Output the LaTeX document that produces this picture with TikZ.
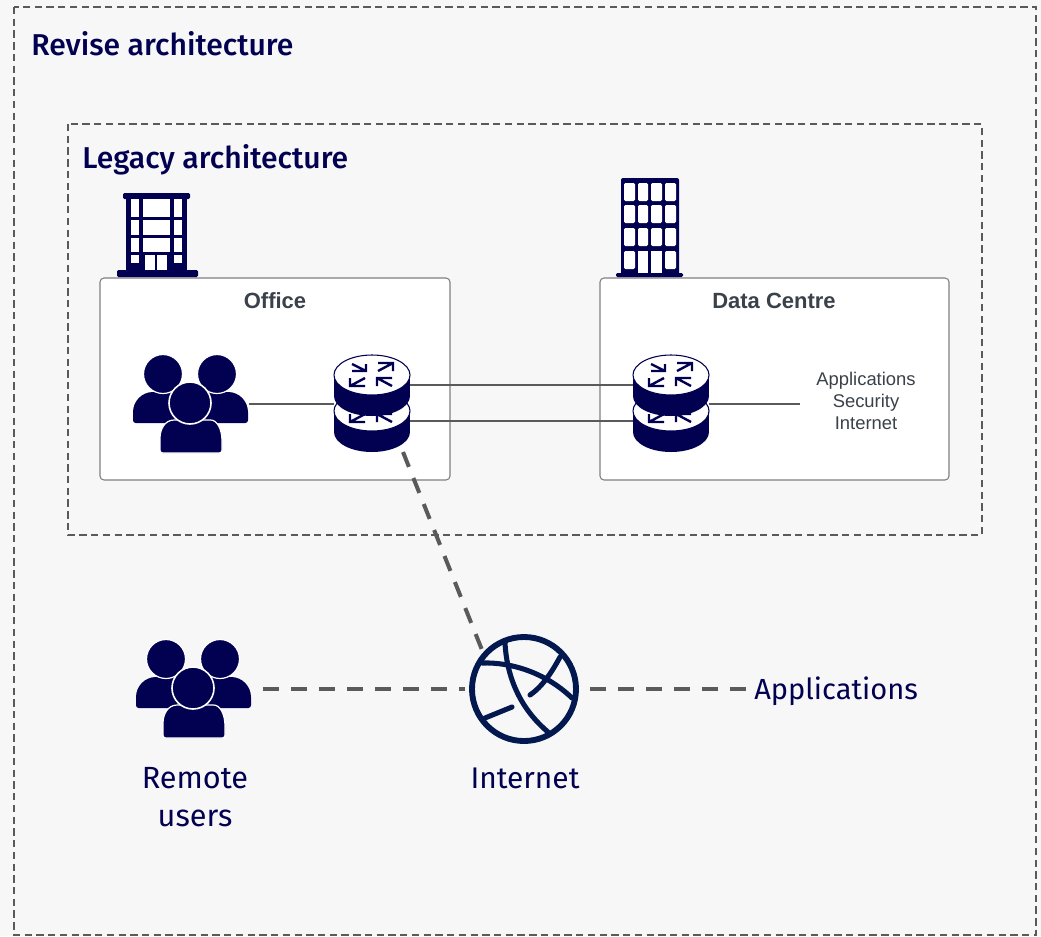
\documentclass[tikz,border=0pt]{standalone}
\usepackage{fontspec}
\setmainfont{Fira Sans}
\newfontfamily\titlefont{Fira Sans Medium}
\newfontfamily\boxfont{Liberation Sans}
\usetikzlibrary{calc,positioning}
\definecolor{navy}{HTML}{020050}
\definecolor{globeblue}{HTML}{03184F}
\definecolor{pagegrey}{HTML}{F7F7F7}
\definecolor{framegrey}{HTML}{5A5A5A}
\definecolor{boxtext}{HTML}{3A414A}

\tikzset{
  usergroup/.pic={
    \fill[navy,rounded corners=2pt] (-57,20) -- (-57,12) {[sharp corners] .. controls (-57,-2) and (-48,-11) .. (-37,-11)} -- (-5,-11) -- (-5,20) -- cycle;
    \fill[navy,rounded corners=2pt] (58,20) -- (58,12) {[sharp corners] .. controls (58,-2) and (49,-11) .. (38,-11)} -- (5,-11) -- (5,20) -- cycle;
    \draw[fill=navy,draw=white,line width=0.9pt] (-27,-29) circle (19.5);
    \draw[fill=navy,draw=white,line width=0.9pt] (27,-29) circle (19.5);
    \draw[fill=navy,draw=white,line width=0.9pt,rounded corners=2pt] (-30,50) -- (-30,38) {[sharp corners] .. controls (-30,26) and (-25,17) .. (-16,17)} -- (18,17) {[sharp corners] .. controls (27,17) and (32,26) .. (32,38)} -- (32,50) -- cycle;
    \draw[fill=navy,draw=white,line width=1.2pt] (0,0) circle (21);
  },
  routerdisc/.pic={
    \fill[navy] (0,21) ellipse [x radius=38,y radius=20];
    \fill[navy] (-38,0) rectangle (38,21);
    \draw[navy,fill=white,line width=0.8pt] (0,0) ellipse [x radius=38,y radius=20];
    \foreach \tx/\ty/\hx/\hy in {-20/-11/-6/-4,6/-4/21/-12,-7/3/-22/11,20/11/5/3} {
      \draw[navy,line width=1.8pt] (\tx,\ty) -- (\hx,\hy) (\hx,\ty) -- (\hx,\hy) -- (\tx,\hy);
    }
  },
  router/.pic={
    \pic at (0,36) {routerdisc};
    \pic at (0,0) {routerdisc};
  }
}

\begin{document}
\begin{tikzpicture}[x=0.75pt,y=-0.75pt]

  \tikzstyle{frame} = [draw=framegrey,line width=1.1pt,dash pattern=on 5.5pt off 3.3pt]
  \tikzstyle{sitebox} = [draw=gray,fill=white,line width=0.8pt,rounded corners=3pt]
  \tikzstyle{heading} = [text=navy,font=\titlefont\fontsize{22.6}{27}\selectfont,anchor=base west,inner sep=0pt]
  \tikzstyle{sitetitle} = [text=boxtext,font=\boxfont\bfseries\fontsize{16.5}{20}\selectfont,inner sep=0pt]
  \tikzstyle{label} = [text=navy,font=\fontsize{23}{29}\selectfont,align=center,inner sep=0pt]
  \tikzstyle{iconbox} = [minimum height=30pt,inner sep=0pt]
  \tikzstyle{port} = [minimum width=57pt,minimum height=1pt,inner sep=0pt]
  \tikzstyle{wire} = [draw=framegrey,line width=1pt]
  \tikzstyle{link} = [draw=framegrey,line width=3pt,dash pattern=on 12pt off 9pt]

  \useasboundingbox (0,0) rectangle (1041,936);
  \fill[pagegrey] (0,0) rectangle (1041,936);

  \draw[frame] (14,7) rectangle (1036,935);
  \draw[frame] (68,124) rectangle (982,535);
  \node[heading] (revise) at (31,55) {Revise architecture};
  \node[heading] (legacy) at (82,168) {Legacy architecture};

  \draw[sitebox] (100,278) rectangle (450,480);
  \draw[sitebox] (600,278) rectangle (949,480);
  \node[sitetitle] (office) at (275,301) {Office};
  \node[sitetitle] (datacentre) at (774,301) {Data Centre};

  % office building
  \fill[navy,rounded corners=1pt] (123,193) rectangle (190,199);
  \fill[navy] (126,199) rectangle (187,272);
  \fill[navy,rounded corners=1pt] (117,270) rectangle (198,277);
  \foreach \xa/\xb in {131/139,143/170,174/182} {
    \fill[white] (\xa,199) rectangle (\xb,217);
    \fill[white] (\xa,220) rectangle (\xb,235);
    \fill[white] (\xa,238) rectangle (\xb,252);
  }
  \fill[white] (131,255) rectangle (139,263);
  \fill[white] (174,255) rectangle (182,263);
  \fill[white] (145,255) rectangle (155,270);
  \fill[white] (157,255) rectangle (167,270);

  % data centre building
  \fill[navy,rounded corners=1.5pt] (621,178) rectangle (679,275);
  \fill[navy,rounded corners=1pt] (616,273) rectangle (683,277);
  \foreach \xa/\xb in {624/635,638/648,651/662,665/676} {
    \foreach \ya/\yb in {183/201,205/223,228/246} {
      \fill[white,rounded corners=1pt] (\xa,\ya) rectangle (\xb,\yb);
    }
  }
  \fill[white,rounded corners=1pt] (624,251) rectangle (635,269);
  \fill[white,rounded corners=1pt] (665,251) rectangle (676,269);
  \fill[white] (638,251) rectangle (648,273);
  \fill[white] (651,251) rectangle (662,273);

  \node[iconbox,minimum width=86pt] (usersA) at (191,404) {};
  \node[port] (routerA) at (372,404) {};
  \node[port] (routerA1) at (372,385) {};
  \node[port] (routerA2) at (372,421) {};
  \node[port] (routerB) at (671,404) {};
  \node[port] (routerB1) at (671,385) {};
  \node[port] (routerB2) at (671,421) {};
  \node[text=boxtext,font=\boxfont\fontsize{13.8}{16.5}\selectfont,align=center,minimum width=99pt,inner sep=0pt] (services) at (866,401) {Applications\\Security\\Internet};

  \draw[wire] (usersA) -- (routerA);
  \draw[wire] (routerA1) -- (routerB1);
  \draw[wire] (routerA2) -- (routerB2);
  \draw[wire] (routerB) -- (routerB -| services.west);

  \pic at (190,403) {usergroup};
  \pic at (372,375) {router};
  \pic at (671,375) {router};

  \coordinate (uplinkA) at (403,452);
  \coordinate (uplinkB) at (482,650);
  \node[iconbox,minimum width=105pt] (usersB) at (193,689) {};
  \node[iconbox,minimum width=94pt] (internet) at (527.5,689) {};
  \node[label,font=\fontsize{21.8}{29}\selectfont,anchor=west] (applications) at (754,691) {Applications};
  \node[label] (remote) at (195,797) {Remote\\users};
  \node[label,font=\fontsize{22.4}{29}\selectfont] (internetlabel) at (525,778) {Internet};
  \coordinate (appsend) at (748,689);

  \draw[link] (uplinkA) -- (uplinkB);
  \draw[link] (usersB) -- (internet);
  \draw[link] (internet) -- (appsend);

  \pic at (193,688) {usergroup};

  % globe
  \draw[globeblue,line width=4.4pt] (524,689) circle (52);
  \draw[globeblue,line width=3.8pt,line cap=round]
    (482,663) .. controls (510,662) and (545,672) .. (572,698)
    (505,643) .. controls (507,680) and (522,710) .. (548,732)
    (530,695) .. controls (542,687) and (552,672) .. (560,657)
    (485,718) -- (512,707);

\end{tikzpicture}
\end{document}
